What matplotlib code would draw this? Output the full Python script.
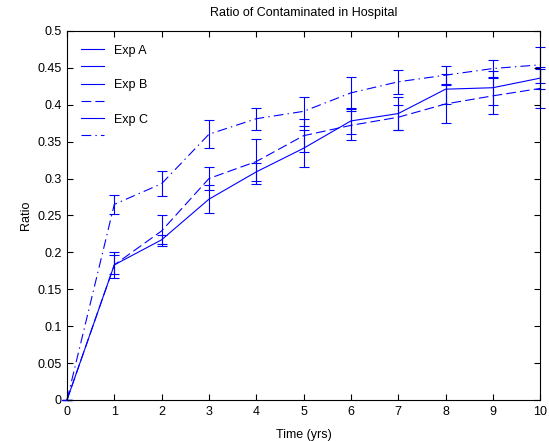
import numpy as np
import matplotlib
matplotlib.use("Agg")
import matplotlib.pyplot as plt
from matplotlib.lines import Line2D

plt.rcParams['font.family'] = ['Liberation Sans', 'DejaVu Sans']
plt.rcParams['lines.scale_dashes'] = False

#---------------------------------------------------------- data
years  = [0, 1, 2, 3, 4, 5, 6, 7, 8, 9, 10]

exp_a     = [0, 0.183, 0.217, 0.272, 0.309, 0.341, 0.378, 0.388, 0.421, 0.423, 0.436]
exp_a_err = [0, 0.018, 0.006, 0.019, 0.012, 0.025, 0.018, 0.022, 0.020, 0.023, 0.015]

exp_b     = [0, 0.183, 0.229, 0.300, 0.323, 0.358, 0.372, 0.383, 0.401, 0.412, 0.422]
exp_b_err = [0, 0.013, 0.021, 0.015, 0.030, 0.022, 0.020, 0.017, 0.026, 0.024, 0.027]

exp_c     = [0, 0.265, 0.293, 0.360, 0.381, 0.391, 0.416, 0.431, 0.440, 0.449, 0.454]
exp_c_err = [0, 0.013, 0.017, 0.019, 0.015, 0.020, 0.022, 0.016, 0.012, 0.012, 0.024]

labels = ["Exp A", "", "Exp B", "", "Exp C", ""]

#---------------------------------------------------------- plotting
fig = plt.figure(figsize=(5.49, 4.41), dpi=100)
ax = fig.add_axes([0.122, 0.093, 0.862, 0.837])

dash = (0, (7, 3))
dashdot = (0, (7, 3, 1, 3))
styles = ['-', dash, dashdot]
series = [(exp_a, exp_a_err), (exp_b, exp_b_err), (exp_c, exp_c_err)]

for (y, e), ls in zip(series, styles):
    eb = ax.errorbar(years, y, yerr=e, color='b', lw=0.8, elinewidth=0.8,
                     capsize=3.5, capthick=0.8, clip_on=False)
    eb[0].set_linestyle(ls)

# errorbar gives two handles per series, like the old matlab legend
handles = []
for ls in styles:
    handles.append(Line2D([], [], color='b', lw=0.8, ls='-'))
    handles.append(Line2D([], [], color='b', lw=0.8, ls=ls))
ax.legend(handles, labels, loc='upper left', frameon=False, fontsize=9,
          handlelength=1.9, handletextpad=0.8, labelspacing=0.42,
          borderaxespad=0.6, borderpad=0.5)

ax.set_xlim(0, 10)
ax.set_ylim(0, 0.5)
ax.set_xticks(np.arange(0, 11, 1))
ax.set_yticks(np.arange(0, 0.501, 0.05))
ax.set_yticklabels(["0", "0.05", "0.1", "0.15", "0.2", "0.25", "0.3",
                    "0.35", "0.4", "0.45", "0.5"])
ax.tick_params(direction='in', top=True, right=True, labelsize=9, length=4,
               width=0.8, pad=4)
for s in ax.spines.values():
    s.set_linewidth(0.8)

ax.set_xlabel("Time (yrs)", fontsize=9, labelpad=8)
ax.set_ylabel("Ratio", fontsize=9, labelpad=4)
ax.set_title("Ratio of Contaminated in Hospital", fontsize=9, pad=11)

fig.savefig("out.png", dpi=100)
